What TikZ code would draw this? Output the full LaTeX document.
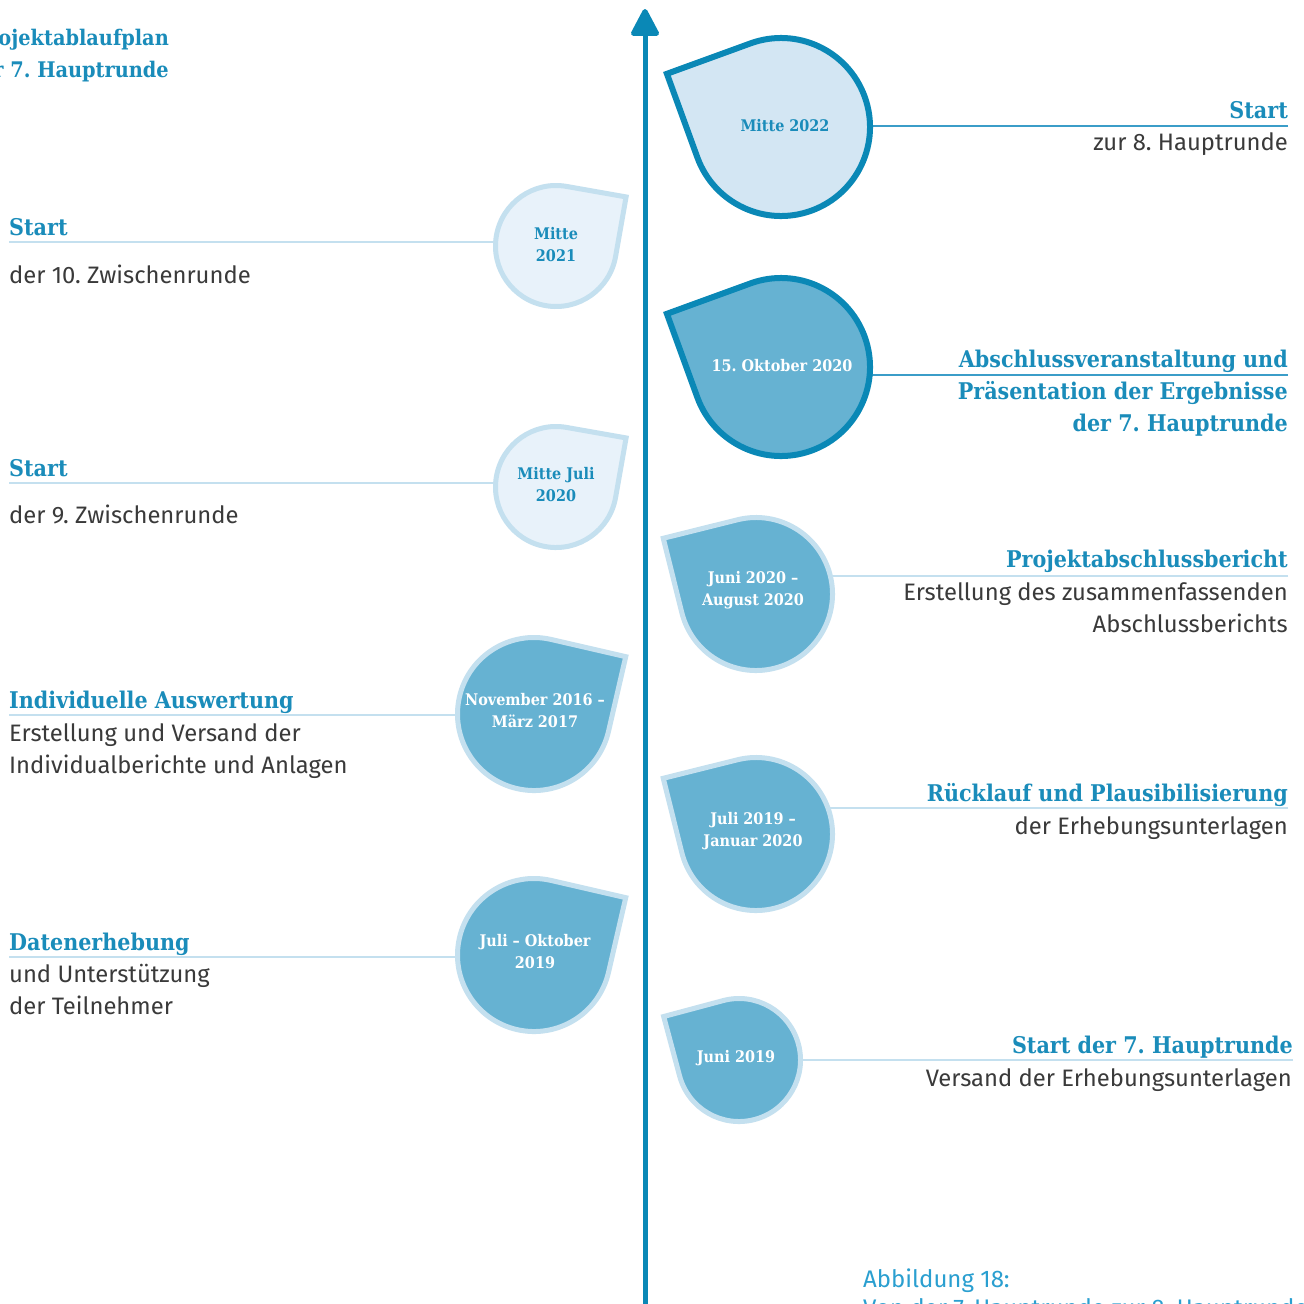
\documentclass[tikz,border=0pt]{standalone}
\usepackage{fontspec}
\setmainfont{Fira Sans}
\newfontfamily\slab{DejaVu Serif Condensed}
\usetikzlibrary{calc,arrows.meta}
\frenchspacing
\definecolor{dblue}{HTML}{0A88B6}
\definecolor{hblue}{HTML}{1A8CBA}
\definecolor{mfill}{HTML}{66B2D2}
\definecolor{afill}{HTML}{D3E6F3}
\definecolor{lfill}{HTML}{E8F2FA}
\definecolor{lrim}{HTML}{C4E0EF}
\definecolor{dconn}{HTML}{3B9DC8}
\definecolor{txtgray}{HTML}{3A3A3A}
\definecolor{capblue}{HTML}{2A9FD0}
\newcommand\tdrop[5]{%
  \path[#1] ($(#2,-#3)+({#5}:{#4*1.41421})$) -- ($(#2,-#3)+({#5+45}:#4)$)
    arc[start angle={#5+45}, end angle={#5+315}, radius=#4] -- cycle;}
\tikzset{
  head/.style={font=\slab\bfseries\fontsize{23}{32}\selectfont, text=hblue, inner sep=0pt},
  titlehead/.style={font=\slab\bfseries\fontsize{21.5}{32}\selectfont, text=hblue, inner sep=0pt},
  body/.style={font=\fontsize{23.8}{32}\selectfont, text=txtgray, inner sep=0pt},
  datetxt/.style={font=\slab\bfseries\fontsize{16}{22}\selectfont, align=center, inner sep=0pt},
  anchorcircle/.style={circle, inner sep=0pt, minimum size=#1},
  darkdrop/.style={fill=#1, draw=dblue, line width=6pt},
  lightdrop/.style={fill=#1, draw=lrim, line width=5pt},
  conndark/.style={draw=dconn, line width=1.5pt},
  connlight/.style={draw=lrim, line width=1.8pt},
  timeline/.style={draw=dblue, line width=5pt, -{Triangle[width=30pt,length=30pt,round]}},
}
\begin{document}
\begin{tikzpicture}[x=1pt,y=1pt]
\useasboundingbox (0,0) rectangle (1304,-1304);
\fill[white] (0,0) rectangle (1304,-1304);

% timeline
\coordinate (tl0) at (645,-1310);
\coordinate (tl1) at (645,-9);
\draw[timeline] (tl0) -- (tl1);

% title
\node[titlehead, anchor=base east] (t1) at (169,-45) {Projektablaufplan};
\node[titlehead, anchor=base east] (t2) at (169,-77) {zur 7. Hauptrunde};

% connector end points
\coordinate (c1) at (1288,-126);
\coordinate (c2) at (1288,-375);
\coordinate (c3) at (1288,-576);
\coordinate (c4) at (1288,-808);
\coordinate (c5) at (1293,-1060);
\coordinate (l1) at (9,-242);
\coordinate (l2) at (9,-483);
\coordinate (l3) at (9,-715);
\coordinate (l4) at (9,-957);

% drop anchor nodes
\node[anchorcircle=178pt] (dA) at (781,-127) {};
\node[anchorcircle=178pt] (dB) at (781,-367) {};
\node[anchorcircle=121pt] (dC) at (556,-246) {};
\node[anchorcircle=121pt] (dD) at (556,-487) {};
\node[anchorcircle=153pt] (dE) at (756,-594) {};
\node[anchorcircle=153pt] (dF) at (534,-714) {};
\node[anchorcircle=153pt] (dG) at (756,-834) {};
\node[anchorcircle=153pt] (dH) at (534,-955) {};
\node[anchorcircle=123pt] (dI) at (739,-1060) {};

% connectors (under drops)
\draw[conndark] (c1) -- (c1 -| dA.center);
\draw[conndark] (c2) -- (c2 -| dB.center);
\draw[connlight] (c3) -- (c3 -| dE.center);
\draw[connlight] (c4) -- (c4 -| dG.center);
\draw[connlight] (c5) -- (c5 -| dI.center);
\draw[connlight] (l1) -- (l1 -| dC.center);
\draw[connlight] (l2) -- (l2 -| dD.center);
\draw[connlight] (l3) -- (l3 -| dF.center);
\draw[connlight] (l4) -- (l4 -| dH.center);

% drop shapes
\tdrop{darkdrop=afill}{781}{127}{89}{155}
\tdrop{darkdrop=mfill}{781}{367}{89}{155}
\tdrop{lightdrop=lfill}{556}{246}{60.5}{35}
\tdrop{lightdrop=lfill}{556}{487}{60.5}{35}
\tdrop{lightdrop=mfill}{756}{594}{76.5}{149}
\tdrop{lightdrop=mfill}{534}{714}{76.5}{32}
\tdrop{lightdrop=mfill}{756}{834}{76.5}{149}
\tdrop{lightdrop=mfill}{534}{955}{76.5}{32}
\tdrop{lightdrop=mfill}{739}{1060}{61.5}{150}

% date texts
\node[datetxt, text=hblue] (tA) at (785,-126) {Mitte 2022};
\node[datetxt, text=white] (tB) at (782,-366) {15. Oktober 2020};
\node[datetxt, text=hblue] (tC) at (556,-245) {Mitte\\2021};
\node[datetxt, text=hblue] (tD) at (556,-485) {Mitte Juli\\2020};
\node[datetxt, text=white] (tE) at (753,-590) {Juni 2020 –\\August 2020};
\node[datetxt, text=white] (tF) at (535,-711) {November 2016 –\\März 2017};
\node[datetxt, text=white] (tG) at (753,-831) {Juli 2019 –\\Januar 2020};
\node[datetxt, text=white] (tH) at (535,-952) {Juli – Oktober\\2019};
\node[datetxt, text=white] (tI) at (736,-1058) {Juni 2019};

% right texts
\node[head, anchor=base east] (h1) at (1288,-118) {Start};
\node[body, anchor=base east] (b1) at (1288,-150) {zur 8. Hauptrunde};
\node[head, anchor=base east] (h2a) at (1288,-367) {Abschlussveranstaltung und};
\node[head, anchor=base east] (h2b) at (1288,-399) {Präsentation der Ergebnisse};
\node[head, anchor=base east] (h2c) at (1288,-431) {der 7. Hauptrunde};
\node[head, anchor=base east] (h3) at (1288,-567) {Projektabschlussbericht};
\node[body, anchor=base east] (b3a) at (1288,-600) {Erstellung des zusammenfassenden};
\node[body, anchor=base east] (b3b) at (1288,-632) {Abschlussberichts};
\node[head, anchor=base east] (h4) at (1288,-801) {Rücklauf und Plausibilisierung};
\node[body, anchor=base east] (b4) at (1288,-834) {der Erhebungsunterlagen};
\node[head, anchor=base east] (h5) at (1293,-1053) {Start der 7. Hauptrunde};
\node[body, anchor=base east] (b5) at (1292,-1086) {Versand der Erhebungsunterlagen};

% left texts
\node[head, anchor=base west] (g1) at (9,-235) {Start};
\node[body, anchor=base west] (k1) at (9,-283) {der 10. Zwischenrunde};
\node[head, anchor=base west] (g2) at (9,-476) {Start};
\node[body, anchor=base west] (k2) at (9,-523) {der 9. Zwischenrunde};
\node[head, anchor=base west] (g3) at (9,-708) {Individuelle Auswertung};
\node[body, anchor=base west] (k3a) at (9,-741) {Erstellung und Versand der};
\node[body, anchor=base west] (k3b) at (9,-773) {Individualberichte und Anlagen};
\node[head, anchor=base west] (g4) at (9,-950) {Datenerhebung};
\node[body, anchor=base west] (k4a) at (9,-982) {und Unterstützung};
\node[body, anchor=base west] (k4b) at (9,-1014) {der Teilnehmer};

% caption
\node[font=\fontsize{24}{29}\selectfont, text=capblue, anchor=base west, inner sep=0pt] (cap1) at (863,-1287) {Abbildung 18:};
\node[font=\fontsize{24}{29}\selectfont, text=capblue, anchor=base west, inner sep=0pt] (cap2) at (863,-1316) {Von der 7. Hauptrunde zur 8. Hauptrunde};
\end{tikzpicture}
\end{document}
